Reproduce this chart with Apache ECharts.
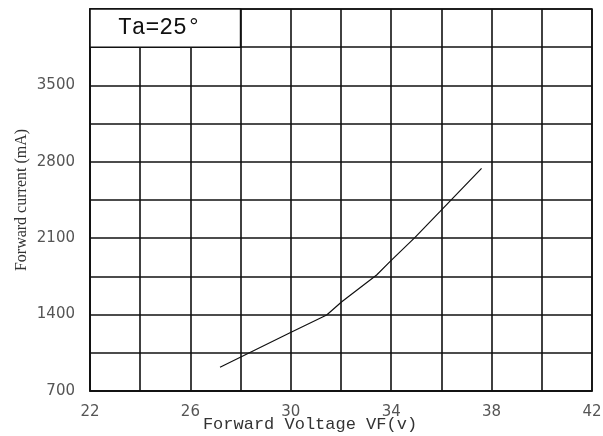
<!DOCTYPE html>
<html>
<head>
<meta charset="utf-8">
<script src="https://cdn.jsdelivr.net/npm/echarts@6/dist/echarts.min.js"></script>
<style>
html,body{margin:0;padding:0;background:#fff;}
#c{width:603px;height:436px;}
</style>
</head>
<body>
<div id="c"></div>
<script>
// Forward voltage (V) and forward current (mA)
var voltage = [27.18, 29.97, 31.43, 32.03, 33.42, 33.95, 34.95, 35.94, 36.41, 37.6];
var current = [917, 1234, 1396, 1518, 1763, 1885, 2108, 2343, 2456, 2740];
var xTickLabels = [22, 26, 30, 34, 38, 42];
var yTickLabels = [700, 1400, 2100, 2800, 3500];
var xRange = [22, 42, 2];
var yRange = [700, 4200, 350];
var boxText = 'Ta=25°';
var boxRange = [[22, 3850], [28, 4200]];
var xTitle = 'Forward Voltage VF(v)';
var yTitle = 'Forward current (mA)';

var chart = echarts.init(document.getElementById('c'), null, {renderer: 'canvas'});
var gridLine = {show: true, lineStyle: {color: '#111', width: 1.6}};
chart.setOption({
  backgroundColor: '#fff',
  animation: false,
  grid: {left: 90, top: 9, right: 11, bottom: 45, show: true, borderColor: '#111', borderWidth: 1.6,
         containLabel: false, outerBoundsMode: 'none'},
  xAxis: {
    type: 'value', min: xRange[0], max: xRange[1], interval: xRange[2],
    name: xTitle, nameLocation: 'middle', nameGap: 25, nameMoveOverlap: false,
    nameTextStyle: {fontFamily: 'Liberation Mono', fontSize: 17, color: '#333', padding: [0, 62, 0, 0]},
    axisLine: {show: true, lineStyle: {color: '#111', width: 1.6}},
    axisTick: {show: false},
    splitLine: gridLine,
    axisLabel: {
      margin: 14, fontFamily: 'DejaVu Sans', fontSize: 15, color: '#555',
      formatter: function (v) { return xTickLabels.indexOf(v) >= 0 ? String(v) : ''; }
    }
  },
  yAxis: {
    type: 'value', min: yRange[0], max: yRange[1], interval: yRange[2],
    name: yTitle, nameLocation: 'middle', nameGap: 60, nameRotate: 90, nameMoveOverlap: false,
    nameTextStyle: {fontFamily: 'Liberation Serif', fontSize: 16, color: '#333'},
    axisLine: {show: true, lineStyle: {color: '#111', width: 1.6}},
    axisTick: {show: false},
    splitLine: gridLine,
    axisLabel: {
      margin: 15, fontFamily: 'DejaVu Sans', fontSize: 15, color: '#555',
      formatter: function (v) { return yTickLabels.indexOf(v) >= 0 ? String(v) : ''; }
    }
  },
  series: [{
    type: 'line',
    data: voltage.map(function (v, i) { return [v, current[i]]; }),
    showSymbol: false,
    lineStyle: {color: '#111', width: 1.2},
    markArea: {
      silent: true,
      itemStyle: {color: '#fff', borderColor: '#111', borderWidth: 1.6},
      label: {show: true, position: 'inside', offset: [-6, 0], fontFamily: 'Liberation Mono', fontSize: 23, color: '#111'},
      data: [[{coord: boxRange[0], name: boxText}, {coord: boxRange[1]}]]
    }
  }]
});
</script>
</body>
</html>
